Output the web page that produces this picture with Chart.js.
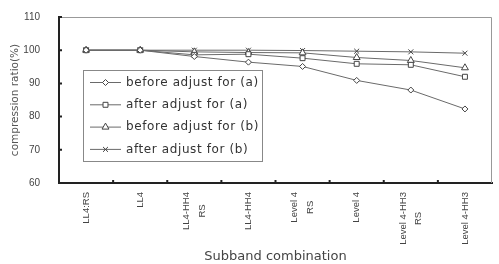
<!DOCTYPE html>
<html>
<head>
<meta charset="utf-8">
<script src="https://cdn.jsdelivr.net/npm/chart.js@4/dist/chart.umd.min.js"></script>
<style>
  html, body { margin: 0; padding: 0; background: #fff; }
  #wrap { width: 499px; height: 264px; }
</style>
</head>
<body>
<div id="wrap"><canvas id="ratioChart" width="499" height="264"></canvas></div>
<script>
const categories = [
  "LL4:RS",
  "LL4",
  ["LL4-HH4", "RS"],
  "LL4-HH4",
  ["Level 4", "RS"],
  "Level 4",
  ["Level 4-HH3", "RS"],
  "Level 4-HH3",
];
const yTicks = [60, 70, 80, 90, 100, 110];

const beforeA = [100, 100, 98.1, 96.4, 95.1, 90.9, 88.0, 82.3];
const afterA = [100, 100, 98.6, 98.8, 97.6, 95.9, 95.6, 92.0];
const beforeB = [100, 100, 99.5, 99.3, 99.2, 97.8, 96.9, 94.7];
const afterB = [100, 100, 100, 100, 99.9, 99.7, 99.5, 99.1];

const seriesNames = ["before adjust for (a)", "after adjust for (a)", "before adjust for (b)", "after adjust for (b)"];
const markerStyles = ["rectRot", "rect", "triangle", "crossRot"];
const markerSizes = [3, 3.5, 4, 3.5];

const lineColor = "#6a6a6a";
const markColor = "#444";
const tickFont = "9.5px 'Liberation Sans', Arial";

function makeSet(i, data) {
  return {
    label: seriesNames[i],
    data: data,
    borderColor: lineColor,
    borderWidth: 1,
    pointStyle: markerStyles[i],
    pointRadius: markerSizes[i],
    pointBorderColor: markColor,
    pointBackgroundColor: "#fff",
    pointBorderWidth: 1,
    tension: 0,
  };
}

// small inward tick marks, gray top/right frame, vertical category labels
const frameTicks = {
  id: "frameTicks",
  afterDraw(chart) {
    const { ctx, chartArea: a, scales } = chart;
    ctx.save();
    ctx.strokeStyle = "#999";
    ctx.lineWidth = 1;
    ctx.beginPath();
    ctx.moveTo(a.left, a.top + 0.5);
    ctx.lineTo(a.right - 0.5, a.top + 0.5);
    ctx.lineTo(a.right - 0.5, a.bottom);
    ctx.stroke();

    ctx.strokeStyle = "#222";
    ctx.lineWidth = 2;
    ctx.beginPath();
    yTicks.forEach(v => {
      const y = scales.y.getPixelForValue(v);
      ctx.moveTo(a.left, y);
      ctx.lineTo(a.left + 3, y);
    });
    const half = (scales.x.getPixelForValue(1) - scales.x.getPixelForValue(0)) / 2;
    for (let i = 1; i < categories.length; i++) {
      const x = scales.x.getPixelForValue(i) - half;
      ctx.moveTo(x, a.bottom);
      ctx.lineTo(x, a.bottom - 3);
    }
    ctx.stroke();

    // category labels: rotated, lines centred on each other, block hung from the axis
    ctx.font = tickFont;
    ctx.fillStyle = "#444";
    ctx.textAlign = "center";
    ctx.textBaseline = "middle";
    categories.forEach((lab, i) => {
      const lines = Array.isArray(lab) ? lab : [lab];
      const w = Math.max(...lines.map(s => ctx.measureText(s).width));
      const cx = scales.x.getPixelForValue(i);
      const top = a.bottom + 9;
      const gap = lines.length > 1 ? (w > 40 ? 15 : 16) : 0;
      lines.forEach((s, k) => {
        const x = cx + (k - (lines.length - 1) / 2) * gap;
        ctx.save();
        ctx.translate(x, top + w / 2);
        ctx.rotate(-Math.PI / 2);
        ctx.fillText(s, 0, 0);
        ctx.restore();
      });
    });
    ctx.restore();
  },
};

// boxed legend inside the plot area
const boxLegend = {
  id: "boxLegend",
  afterDraw(chart) {
    const { ctx } = chart;
    const bx = 83, by = 70, bw = 179, bh = 91;
    ctx.save();
    ctx.fillStyle = "#fff";
    ctx.fillRect(bx, by, bw, bh);
    ctx.strokeStyle = "#888";
    ctx.lineWidth = 1;
    ctx.strokeRect(bx + 0.5, by + 0.5, bw, bh);

    chart.data.datasets.forEach((ds, i) => {
      const y = 82.5 + i * 22.3;
      ctx.strokeStyle = lineColor;
      ctx.lineWidth = 1;
      ctx.beginPath();
      ctx.moveTo(90, y);
      ctx.lineTo(121, y);
      ctx.stroke();
      ctx.strokeStyle = markColor;
      ctx.fillStyle = "#fff";
      Chart.helpers.drawPoint(ctx, { pointStyle: ds.pointStyle, radius: ds.pointRadius, rotation: 0, borderWidth: 1 }, 105.5, y);
      ctx.fillStyle = "#333";
      ctx.font = "12px 'DejaVu Sans'";
      ctx.letterSpacing = "0.6px";
      ctx.textBaseline = "middle";
      ctx.textAlign = "left";
      ctx.fillText(ds.label, 126, y);
      ctx.letterSpacing = "0px";
    });
    ctx.restore();
  },
};

new Chart(document.getElementById("ratioChart"), {
  type: "line",
  data: {
    labels: categories,
    datasets: [makeSet(0, beforeA), makeSet(1, afterA), makeSet(2, beforeB), makeSet(3, afterB)],
  },
  plugins: [frameTicks, boxLegend],
  options: {
    responsive: false,
    animation: false,
    layout: { padding: { top: 9, right: 7, left: 0, bottom: 0 } },
    plugins: {
      legend: { display: false },
      tooltip: { enabled: false },
    },
    scales: {
      x: {
        offset: true,
        grid: { display: false },
        border: { display: true, color: "#222", width: 2 },
        ticks: { display: false },
        title: {
          display: true,
          text: "Subband combination",
          color: "#444",
          padding: 0,
          font: { family: "'DejaVu Sans'", size: 13 },
        },
        afterFit(scale) { scale.height = 81; },
      },
      y: {
        min: 60,
        max: 110,
        grid: { display: false },
        border: { display: true, color: "#222", width: 2 },
        afterBuildTicks(scale) { scale.ticks = yTicks.map(v => ({ value: v })); },
        ticks: {
          color: "#444",
          padding: 11,
          font: { family: "'Liberation Sans', Arial", size: 10 },
        },
        title: {
          display: true,
          text: "compression ratio(%)",
          color: "#555",
          padding: { top: 9, bottom: 0 },
          font: { family: "'DejaVu Sans'", size: 10.5 },
        },
        afterFit(scale) { scale.width = 59; },
      },
    },
  },
});
</script>
</body>
</html>
